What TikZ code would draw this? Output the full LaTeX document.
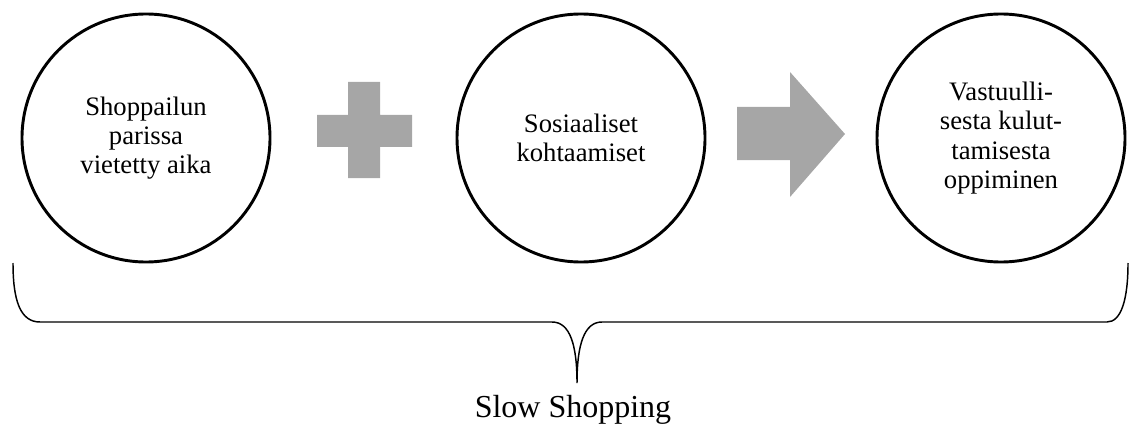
\documentclass[tikz,border=0pt]{standalone}
\usepackage{fontspec}
\setmainfont{Liberation Serif}
\begin{document}
\begin{tikzpicture}[x=0.75pt,y=-0.75pt,
  bubble/.style={circle,draw=black,line width=2.2pt,minimum size=186pt,inner sep=0pt,
    align=center,font=\fontsize{20}{22}\selectfont},
  shapefill/.style={fill=shapegray,draw=none},
  bracepath/.style={draw=black,line width=1.1pt}]
\definecolor{shapegray}{HTML}{A6A6A6}
\useasboundingbox (0,0) rectangle (1130,424);
\node[bubble] (c1) at (146,138) {Shoppailun\\parissa\\vietetty aika};
\node[bubble] (c2) at (581,138) {Sosiaaliset\\kohtaamiset};
\node[bubble] (c3) at (1001,138) {Vastuulli-\\sesta kulut-\\tamisesta\\oppiminen};
% plus sign
\fill[shapegray] (348,82) -- (380,82) -- (380,115) -- (412,115) -- (412,147) -- (380,147)
  -- (380,178) -- (348,178) -- (348,147) -- (317,147) -- (317,115) -- (348,115) -- cycle;
% arrow
\fill[shapegray] (737,107) -- (790,107) -- (790,72) -- (845,134) -- (790,197) -- (790,160)
  -- (737,160) -- cycle;
% brace
\coordinate (bl) at (13,263);
\coordinate (br) at (1128,263);
\coordinate (tip) at (577,383);
\draw[bracepath] (bl) .. controls (13,300) and (20,322) .. (40,322) -- (552,322)
  .. controls (570,322) and (577,345) .. (tip)
  .. controls (577,345) and (584,322) .. (602,322) -- (1107,322)
  .. controls (1121,322) and (1128,300) .. (br);
\node[font=\fontsize{24}{28}\selectfont,anchor=base] (lbl) at (573,417) {Slow Shopping};
\end{tikzpicture}
\end{document}
